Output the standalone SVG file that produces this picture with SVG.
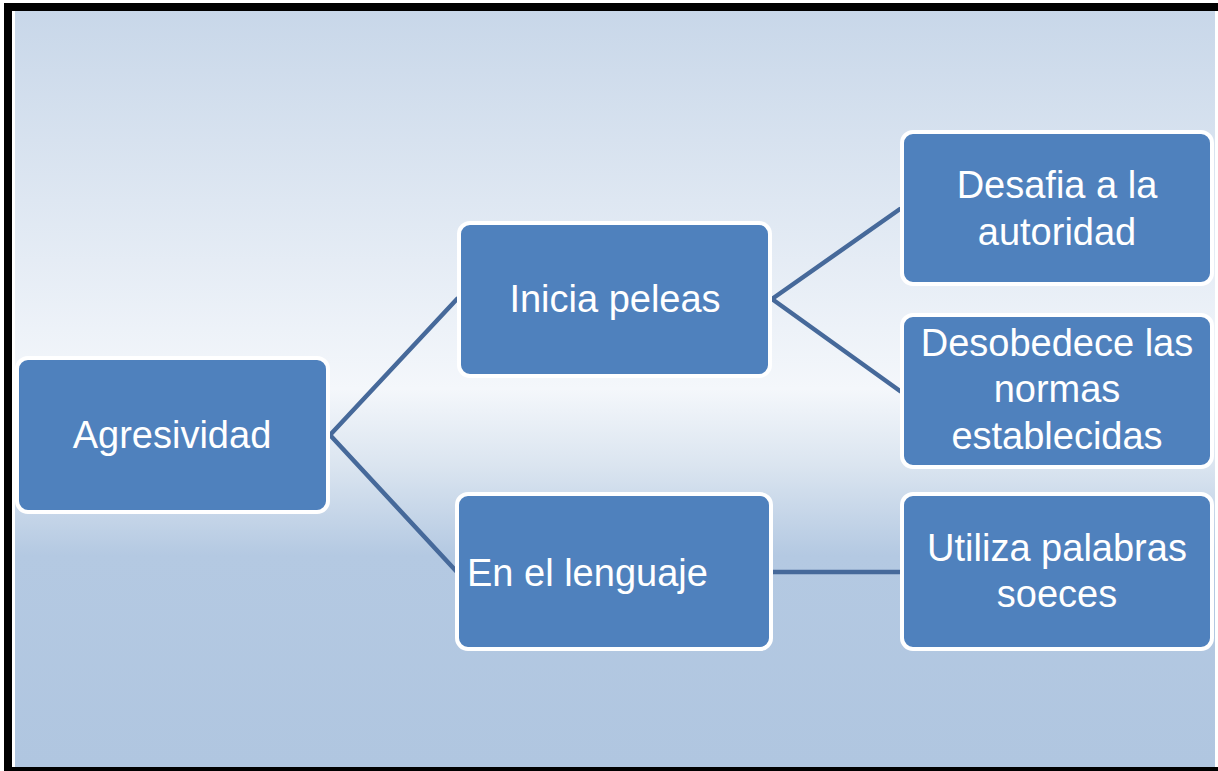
<svg xmlns="http://www.w3.org/2000/svg" width="1218" height="771" viewBox="0 0 1218 771">
<style>
.node{fill:#4f81bd;stroke:#ffffff;stroke-width:4}
.lbl{font-family:"Liberation Sans","Open Sans",sans-serif;font-size:38px;fill:#ffffff;text-anchor:middle}
.conn{stroke:#46699a;stroke-width:4.5;fill:none;stroke-linecap:round}
</style>
<defs>
<linearGradient id="bg" x1="0" y1="0" x2="0" y2="1">
<stop offset="0" stop-color="#c8d7e9"/>
<stop offset="0.5" stop-color="#f4f7fb"/>
<stop offset="0.6" stop-color="#dbe5f0"/>
<stop offset="0.72" stop-color="#b4c9e2"/>
<stop offset="1" stop-color="#b0c6e0"/>
</linearGradient>
</defs>
<rect x="0" y="0" width="1218" height="771" fill="#ffffff"/>
<rect x="15" y="11" width="1200" height="756" fill="url(#bg)"/>
<rect x="4" y="3" width="1214" height="8" fill="#000000"/>
<rect x="4" y="3" width="8" height="768" fill="#000000"/>
<rect x="4" y="767" width="1214" height="4" fill="#000000"/>
<g id="connectors">
<line class="conn" x1="330" y1="435" x2="457" y2="299"/>
<line class="conn" x1="330" y1="435" x2="457" y2="572"/>
<line class="conn" x1="772" y1="299" x2="900" y2="209"/>
<line class="conn" x1="772" y1="299" x2="900" y2="391"/>
<line class="conn" x1="772" y1="572" x2="900" y2="572"/>
</g>
<g id="agresividad">
<rect class="node" x="17" y="358" width="311" height="154" rx="11"/>
<text class="lbl" x="172" y="448">Agresividad</text>
</g>
<g id="inicia-peleas">
<rect class="node" x="459" y="223" width="311" height="153" rx="11"/>
<text class="lbl" x="615" y="312">Inicia peleas</text>
</g>
<g id="en-el-lenguaje">
<rect class="node" x="457" y="494" width="314" height="155" rx="11"/>
<text class="lbl" x="467" y="586" style="text-anchor:start">En el lenguaje</text>
</g>
<g id="desafia">
<rect class="node" x="902" y="132" width="310" height="152" rx="11"/>
<text class="lbl" x="1057" y="198">Desafia a la</text>
<text class="lbl" x="1057" y="245">autoridad</text>
</g>
<g id="desobedece">
<rect class="node" x="902" y="315" width="310" height="152" rx="11"/>
<text class="lbl" x="1057" y="356">Desobedece las</text>
<text class="lbl" x="1057" y="402">normas</text>
<text class="lbl" x="1057" y="449">establecidas</text>
</g>
<g id="utiliza">
<rect class="node" x="902" y="494" width="310" height="155" rx="11"/>
<text class="lbl" x="1057" y="561">Utiliza palabras</text>
<text class="lbl" x="1057" y="607">soeces</text>
</g>
</svg>
